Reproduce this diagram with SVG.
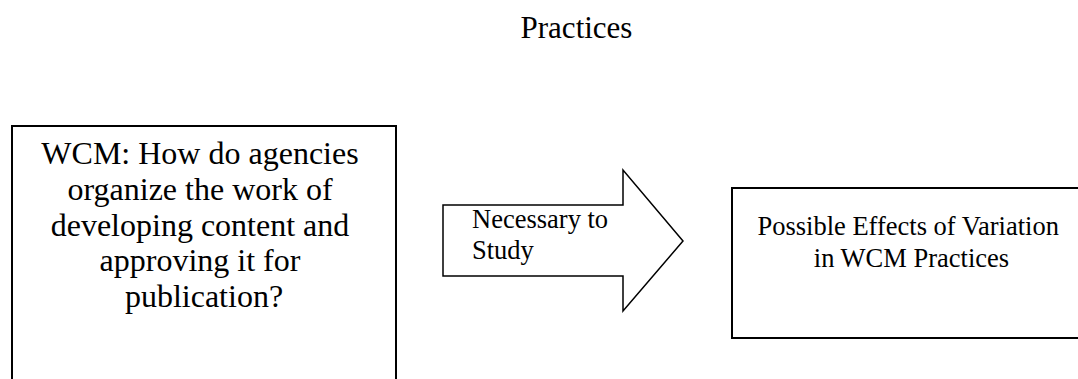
<svg xmlns="http://www.w3.org/2000/svg" width="1078" height="379" viewBox="0 0 1078 379">
<style>
.box{fill:#fff;stroke:#000;stroke-width:2}
.arrow{fill:#fff;stroke:#000;stroke-width:1.5;stroke-linejoin:miter}
text{font-family:"Liberation Serif","Times New Roman",serif;fill:#000}
.c{text-anchor:middle}
</style>
<rect width="1078" height="379" fill="#fff"/>
<text class="c" x="576.5" y="38" font-size="31">Practices</text>
<g id="node-wcm">
<rect class="box" x="12" y="126" width="384" height="271"/>
<text class="c" font-size="32">
<tspan x="204" y="164">WCM: How do agencies</tspan>
<tspan x="204" y="200">organize the work of</tspan>
<tspan x="204" y="236">developing content and</tspan>
<tspan x="204" y="271">approving it for</tspan>
<tspan x="204" y="307">publication?</tspan>
</text>
</g>
<g id="connectors">
<g id="arrow-necessary">
<polygon class="arrow" points="443,205 623,205 623,170 683,241 623,311 623,276 443,276"/>
<text font-size="26.5">
<tspan x="472" y="228">Necessary to</tspan>
<tspan x="472" y="259">Study</tspan>
</text>
</g>
</g>
<g id="node-effects">
<rect class="box" x="732" y="188" width="360" height="150"/>
<text class="c" font-size="26.5">
<tspan x="911.5" y="235">Possible Effects of Variation</tspan>
<tspan x="911.5" y="267">in WCM Practices</tspan>
</text>
</g>
</svg>
